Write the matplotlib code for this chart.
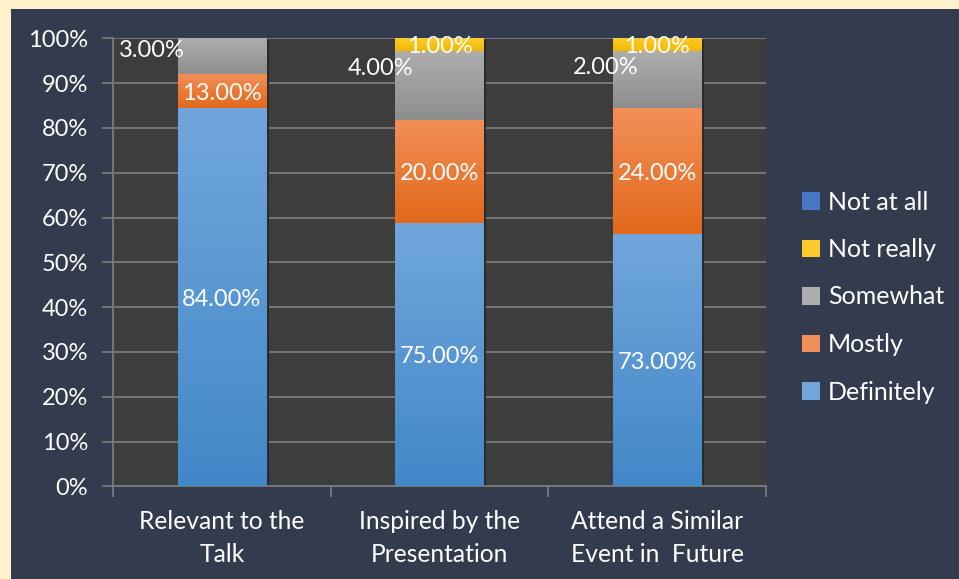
import numpy as np
import matplotlib
matplotlib.use("Agg")
import matplotlib.pyplot as plt
from matplotlib.colors import LinearSegmentedColormap
from matplotlib.patches import Rectangle, Patch

plt.rcParams['font.family'] = ['Lato', 'DejaVu Sans']

# data (segment heights in % of the bar)
categories = ["Relevant to the\nTalk", "Inspired by the\nPresentation", "Attend a Similar\nEvent in  Future"]
definitely = [84.4, 58.7, 56.3]
mostly = [7.6, 23.0, 28.1]
somewhat = [8.0, 15.4, 12.7]
not_really = [0.0, 2.9, 2.9]
not_at_all = [0.0, 0.0, 0.0]

# label text as printed on the chart
lab_definitely = ["84.00%", "75.00%", "73.00%"]
lab_mostly = ["13.00%", "20.00%", "24.00%"]
lab_somewhat = ["3.00%", "4.00%", "2.00%"]
lab_not_really = ["", "1.00%", "1.00%"]

cream = "#fff2cc"
navy = "#333c4e"
plot_bg = "#3d3d3d"
grid_c = "#7a7a7a"
fs = 17

# (top colour, bottom colour) for each series
grads = {
    "Definitely": ("#71a6dc", "#4288c8"),
    "Mostly": ("#f28f58", "#e2691b"),
    "Somewhat": ("#adadad", "#8e8e8e"),
    "Not really": ("#ffcb2e", "#f2b800"),
    "Not at all": ("#4a76c6", "#3a64b4"),
}

fig = plt.figure(figsize=(9.59, 5.79), dpi=100, facecolor=cream)
fig.patches.append(Rectangle((11 / 959, 0), 1, (579 - 9) / 579, transform=fig.transFigure,
                             facecolor=navy, edgecolor="none", zorder=-10))

ax = fig.add_axes([113 / 959, 92.7 / 579, 653 / 959, 448 / 579])
ax.set_facecolor(plot_bg)

x = np.arange(len(categories))
w = 0.405

series = [("Definitely", definitely), ("Mostly", mostly), ("Somewhat", somewhat),
          ("Not really", not_really), ("Not at all", not_at_all)]

bottom = np.zeros(len(categories))
for name, vals in series:
    top_c, bot_c = grads[name]
    cmap = LinearSegmentedColormap.from_list(name, [bot_c, top_c])
    bars = ax.bar(x, vals, w, bottom=bottom, color=top_c, linewidth=0, zorder=3)
    for b in bars:
        if b.get_height() <= 0:
            continue
        b.set_facecolor("none")
        x0, y0 = b.get_x(), b.get_y()
        im = ax.imshow(np.linspace(0, 1, 100).reshape(-1, 1), cmap=cmap, aspect="auto",
                       origin="lower", extent=[x0, x0 + b.get_width(), y0, y0 + b.get_height()],
                       zorder=3, interpolation="bicubic")
        im.set_clip_path(b)
        # soft shadow on the right side
        ax.add_patch(Rectangle((x0 + b.get_width(), y0 - 0.4), 0.012, b.get_height(),
                               facecolor="#2a2a2a", edgecolor="none", zorder=2))
    bottom += np.array(vals)

ax.set_xlim(-0.5, len(categories) - 0.5)
ax.set_ylim(0, 100)

txt = dict(color="white", fontsize=fs, ha="center", va="center_baseline", zorder=5)
d = np.array(definitely)
m = np.array(mostly)
s = np.array(somewhat)
for i in range(len(categories)):
    ax.text(x[i], d[i] / 2, lab_definitely[i], **txt)
    ax.text(x[i], d[i] + m[i] / 2, lab_mostly[i], **txt)
    if lab_not_really[i]:
        ax.text(x[i], d[i] + m[i] + s[i] + not_really[i] / 2, lab_not_really[i], **txt)
# somewhat labels were dragged to the left of the bars
som_dx = [-0.32, -0.27, -0.235]
som_y = [97.8, 93.8, 94.0]
for i in range(len(categories)):
    ax.text(x[i] + som_dx[i], som_y[i], lab_somewhat[i], **txt)

ax.set_yticks(np.arange(0, 101, 10))
ax.set_yticklabels([f"{v}%" for v in range(0, 101, 10)])
ax.yaxis.grid(True, color=grid_c, linewidth=1.3, zorder=1)
ax.set_axisbelow(True)
ax.tick_params(axis="y", colors=grid_c, labelcolor="white", labelsize=fs, length=8, width=1.3, pad=10)

ax.set_xticks(x)
ax.set_xticklabels(categories)
ax.tick_params(axis="x", length=0, labelcolor="white", labelsize=17.7, pad=17)
ax.set_xticks(np.arange(-0.5, len(categories), 1), minor=True)
ax.tick_params(axis="x", which="minor", length=8, width=1.3, colors=grid_c)
for lbl in ax.get_xticklabels():
    lbl.set_linespacing(1.55)

for sp in ["top", "right"]:
    ax.spines[sp].set_visible(False)
for sp in ["left", "bottom"]:
    ax.spines[sp].set_color(grid_c)
    ax.spines[sp].set_linewidth(1.3)

handles = [Patch(facecolor=grads[n][0], edgecolor="none") for n, _ in series][::-1]
labels = [n for n, _ in series][::-1]
leg = fig.legend(handles, labels, loc="center left", bbox_to_anchor=(802 / 959, 1 - 297 / 579),
                 frameon=False, fontsize=18, labelcolor="white", handlelength=0.7, handleheight=0.7,
                 handletextpad=0.35, labelspacing=0.98, borderaxespad=0, borderpad=0)

fig.savefig("out.png", dpi=100, facecolor=cream)
